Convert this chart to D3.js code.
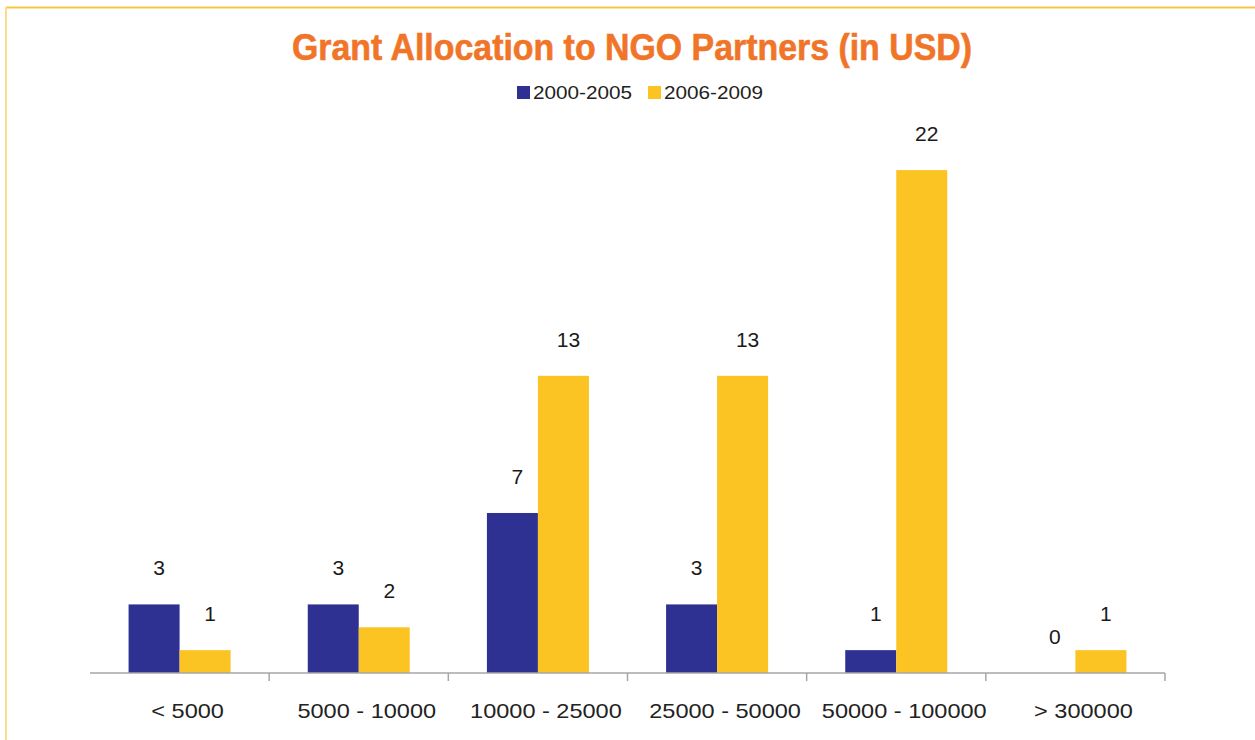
<!DOCTYPE html>
<html><head><meta charset="utf-8">
<script src="https://cdn.jsdelivr.net/npm/d3@7/dist/d3.min.js"></script>
<style>body{margin:0;background:#fff;} svg{display:block;}</style>
</head><body>
<svg id="chart" width="1255" height="740"></svg>
<script>
const categories = ["< 5000", "5000 - 10000", "10000 - 25000", "25000 - 50000", "50000 - 100000", "> 300000"];
const seriesNames = ["2000-2005", "2006-2009"];
const values2000_2005 = [3, 3, 7, 3, 1, 0];
const values2006_2009 = [1, 2, 13, 13, 22, 1];
const colors = ["#2E3192", "#FBC423"];
const FONT = "Liberation Sans, Arial, sans-serif";

function stretch(sel, k) {
  sel.each(function () {
    const l = this.getComputedTextLength();
    d3.select(this).attr("textLength", l * k).attr("lengthAdjust", "spacingAndGlyphs");
  });
}

const svg = d3.select("#chart");
// border
svg.append("line").attr("x1", 6).attr("x2", 1255).attr("y1", 7.5).attr("y2", 7.5).attr("stroke", "#F5C545").attr("stroke-width", 2);
svg.append("line").attr("x1", 6).attr("x2", 6).attr("y1", 7).attr("y2", 740).attr("stroke", "#FDDB8C").attr("stroke-width", 2);

const x0 = d3.scaleBand().domain(categories).range([90, 1165]);
const y = d3.scaleLinear().domain([0, 25]).range([673, 101.5]);
const groupW = 102;
const inner = d3.scaleBand().domain(seriesNames).range([(x0.bandwidth() - groupW) / 2, (x0.bandwidth() + groupW) / 2]);

const data = categories.map((c, i) => ({cat: c, vals: [values2000_2005[i], values2006_2009[i]]}));

const g = svg.append("g");
const groups = g.selectAll("g.cat").data(data).join("g").attr("transform", d => `translate(${x0(d.cat)},0)`);
groups.selectAll("rect").data(d => d.vals.map((v, j) => ({s: seriesNames[j], v, j}))).join("rect")
  .attr("x", d => inner(d.s)).attr("width", inner.bandwidth())
  .attr("y", d => y(d.v)).attr("height", d => y(0) - y(d.v))
  .attr("fill", d => colors[d.j]);
const lbls = groups.selectAll("text.lbl").data(d => d.vals.map((v, j) => ({s: seriesNames[j], v, j}))).join("text")
  .attr("class", "lbl")
  .attr("x", d => inner(d.s) + inner.bandwidth() / 2 + 5)
  .attr("y", d => y(d.v) - 29)
  .attr("text-anchor", "middle")
  .attr("font-family", FONT).attr("font-size", 20).attr("fill", "#1a1a1a")
  .text(d => d.v);
stretch(lbls, 1.05);

// axis
const axis = d3.axisBottom(x0).tickSize(0).tickPadding(30);
const ax = svg.append("g").attr("transform", `translate(0,${y(0)})`).call(axis);
ax.select(".domain").attr("stroke", "#A6A6A6").attr("stroke-width", 1.5).attr("d", "M90,0H1165");
const tt = ax.selectAll(".tick text").attr("font-family", FONT).attr("font-size", 21).attr("fill", "#222").attr("x", 8);
stretch(tt, 1.12);
const bounds = categories.map(c => x0(c) + x0.bandwidth());
ax.selectAll("line.sep").data(bounds).join("line").attr("class", "sep")
  .attr("x1", d => d).attr("x2", d => d).attr("y1", 0).attr("y2", 8).attr("stroke", "#A6A6A6").attr("stroke-width", 1.5);

// title
svg.append("text").attr("x", 632).attr("y", 60).attr("text-anchor", "middle")
  .attr("font-family", "Liberation Sans Narrow, Liberation Sans, Arial, sans-serif").attr("font-weight", "bold")
  .attr("font-size", 37).attr("fill", "#F07529").attr("stroke", "#F07529").attr("stroke-width", 0.6)
  .attr("textLength", 680).attr("lengthAdjust", "spacingAndGlyphs")
  .text("Grant Allocation to NGO Partners (in USD)");

// legend
const legX = [517, 648];
seriesNames.forEach((s, i) => {
  svg.append("rect").attr("x", legX[i]).attr("y", 86).attr("width", 13).attr("height", 13).attr("fill", colors[i]);
  svg.append("text").attr("x", legX[i] + 16).attr("y", 99).attr("font-family", FONT)
    .attr("font-size", 18).attr("fill", "#222").attr("textLength", 99).attr("lengthAdjust", "spacingAndGlyphs").text(s);
});
</script>
</body></html>
